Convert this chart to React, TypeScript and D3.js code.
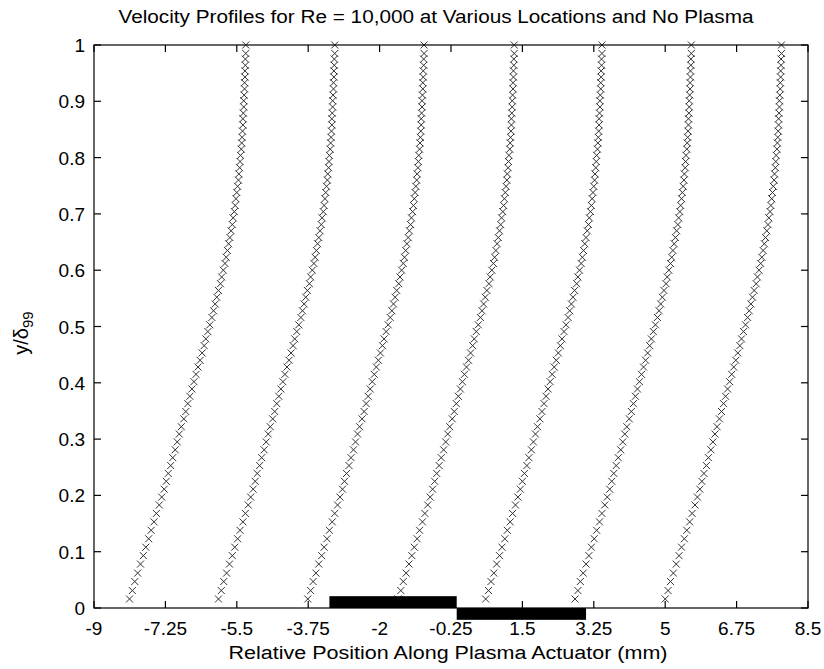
import { useEffect, useRef } from "react";
import * as d3 from "d3";

const titleText =
  "Velocity Profiles for Re = 10,000 at Various Locations and No Plasma";
const xLabelText = "Relative Position Along Plasma Actuator (mm)";

const xTicks = [-9, -7.25, -5.5, -3.75, -2, -0.25, 1.5, 3.25, 5, 6.75, 8.5];
const xTickLabels = ["-9", "-7.25", "-5.5", "-3.75", "-2", "-0.25", "1.5", "3.25", "5", "6.75", "8.5"];
const yTicks = [0, 0.1, 0.2, 0.3, 0.4, 0.5, 0.6, 0.7, 0.8, 0.9, 1];
const yTickLabels = ["0", "0.1", "0.2", "0.3", "0.4", "0.5", "0.6", "0.7", "0.8", "0.9", "1"];

// streamwise stations (x at the wall-most point, mm)
const locations = [-8.13, -5.95, -3.76, -1.55, 0.6, 2.79, 5.0];

// measured profile heights (y/delta99)
const profileY = [
  0.016, 0.031, 0.047, 0.062, 0.078, 0.093, 0.108, 0.123, 0.138, 0.153,
  0.168, 0.183, 0.197, 0.211, 0.225, 0.239, 0.253, 0.267, 0.281, 0.295,
  0.309, 0.322, 0.336, 0.349, 0.363, 0.376, 0.389, 0.402, 0.415, 0.428,
  0.44, 0.453, 0.466, 0.478, 0.491, 0.503, 0.516, 0.528, 0.54, 0.552,
  0.564, 0.576, 0.588, 0.6, 0.612, 0.623, 0.635, 0.647, 0.658, 0.67,
  0.681, 0.693, 0.704, 0.715, 0.727, 0.738, 0.749, 0.76, 0.771, 0.782,
  0.793, 0.804, 0.815, 0.826, 0.836, 0.847, 0.858, 0.869, 0.879, 0.89,
  0.901, 0.911, 0.922, 0.933, 0.943, 0.954, 0.964, 0.975, 0.985, 1.0,
];

// scaled velocity, plotted as an offset from the station (mm)
const profileU = [
  0.0, 0.07, 0.13, 0.2, 0.27, 0.34, 0.4, 0.47, 0.53, 0.6,
  0.66, 0.73, 0.79, 0.85, 0.9, 0.95, 1.01, 1.06, 1.12, 1.17,
  1.22, 1.27, 1.33, 1.38, 1.43, 1.48, 1.53, 1.58, 1.63, 1.68,
  1.73, 1.78, 1.83, 1.87, 1.92, 1.97, 2.02, 2.06, 2.1, 2.14,
  2.18, 2.23, 2.26, 2.3, 2.34, 2.37, 2.4, 2.43, 2.46, 2.49,
  2.52, 2.54, 2.57, 2.59, 2.61, 2.63, 2.65, 2.67, 2.68, 2.7,
  2.71, 2.72, 2.74, 2.75, 2.76, 2.77, 2.78, 2.78, 2.79, 2.8,
  2.8, 2.81, 2.82, 2.82, 2.83, 2.83, 2.84, 2.84, 2.85, 2.85,
];

// actuator electrodes (exposed above, encapsulated below the wall)
const electrodeX0 = [-3.23, -0.11];
const electrodeX1 = [-0.11, 3.06];
const electrodeY0 = [0, -0.021];
const electrodeY1 = [0.021, 0];

export default function App() {
  const svgRef = useRef<SVGSVGElement>(null);

  useEffect(() => {
    if (!svgRef.current) return;
    const svg = d3.select(svgRef.current);
    svg.selectAll("*").remove();

    const left = 94;
    const right = 808;
    const top = 45;
    const bottom = 608;
    const font = "'Liberation Sans', Arial, sans-serif";
    const fs = 19;
    const tickLen = 7;

    const x = d3.scaleLinear().domain([-9, 8.5]).range([left, right]);
    const y = d3.scaleLinear().domain([0, 1]).range([bottom, top]);

    svg.append("rect").attr("width", 824).attr("height", 669).attr("fill", "#fff");

    // profiles
    const pts = locations.flatMap((loc) =>
      profileY.map((yy, i) => ({ x: loc + profileU[i], y: yy }))
    );
    svg
      .append("g")
      .selectAll("path")
      .data(pts)
      .join("path")
      .attr("transform", (d) => `translate(${x(d.x)},${y(d.y)})`)
      .attr("d", "M-3.5,-3.5L3.5,3.5M-3.5,3.5L3.5,-3.5")
      .attr("stroke", "#333")
      .attr("stroke-width", 1)
      .attr("fill", "none");

    // electrodes
    svg
      .append("g")
      .selectAll("rect")
      .data(electrodeX0.map((_, i) => i))
      .join("rect")
      .attr("x", (i) => x(electrodeX0[i]))
      .attr("width", (i) => x(electrodeX1[i]) - x(electrodeX0[i]))
      .attr("y", (i) => y(electrodeY1[i]))
      .attr("height", (i) => y(electrodeY0[i]) - y(electrodeY1[i]))
      .attr("fill", "#000");

    // box
    svg
      .append("rect")
      .attr("x", left)
      .attr("y", top)
      .attr("width", right - left)
      .attr("height", bottom - top)
      .attr("fill", "none")
      .attr("stroke", "#000")
      .attr("stroke-width", 1.2);

    const ticks = svg.append("g").attr("stroke", "#000").attr("stroke-width", 1.2);
    xTicks.forEach((t) => {
      ticks.append("line").attr("x1", x(t)).attr("x2", x(t)).attr("y1", bottom).attr("y2", bottom - tickLen);
      ticks.append("line").attr("x1", x(t)).attr("x2", x(t)).attr("y1", top).attr("y2", top + tickLen);
    });
    yTicks.forEach((t) => {
      ticks.append("line").attr("x1", left).attr("x2", left + tickLen).attr("y1", y(t)).attr("y2", y(t));
      ticks.append("line").attr("x1", right).attr("x2", right - tickLen).attr("y1", y(t)).attr("y2", y(t));
    });

    svg
      .append("g")
      .selectAll("text")
      .data(xTicks)
      .join("text")
      .attr("x", (d) => x(d))
      .attr("y", bottom + 27)
      .attr("text-anchor", "middle")
      .attr("font-family", font)
      .attr("font-size", fs)
      .attr("fill", "#000")
      .text((_, i) => xTickLabels[i]);

    svg
      .append("g")
      .selectAll("text")
      .data(yTicks)
      .join("text")
      .attr("x", left - 9)
      .attr("y", (d) => y(d) + 7)
      .attr("text-anchor", "end")
      .attr("font-family", font)
      .attr("font-size", fs)
      .attr("fill", "#000")
      .text((_, i) => yTickLabels[i]);

    svg
      .append("text")
      .attr("x", 436)
      .attr("y", 23)
      .attr("text-anchor", "middle")
      .attr("font-family", font)
      .attr("font-size", 18)
      .attr("textLength", 635)
      .attr("lengthAdjust", "spacingAndGlyphs")
      .text(titleText);

    svg
      .append("text")
      .attr("x", 448)
      .attr("y", 659)
      .attr("text-anchor", "middle")
      .attr("font-family", font)
      .attr("font-size", 18)
      .attr("textLength", 439)
      .attr("lengthAdjust", "spacingAndGlyphs")
      .text(xLabelText);

    const yl = svg
      .append("text")
      .attr("transform", `translate(28,333) rotate(-90)`)
      .attr("text-anchor", "middle")
      .attr("font-family", font)
      .attr("font-size", 20);
    yl.append("tspan").text("y/δ");
    yl.append("tspan").attr("font-size", 15).attr("dy", 5).text("99");
  }, []);

  return (
    <svg
      ref={svgRef}
      width={824}
      height={669}
      style={{ position: "absolute", left: 0, top: 0 }}
    />
  );
}
